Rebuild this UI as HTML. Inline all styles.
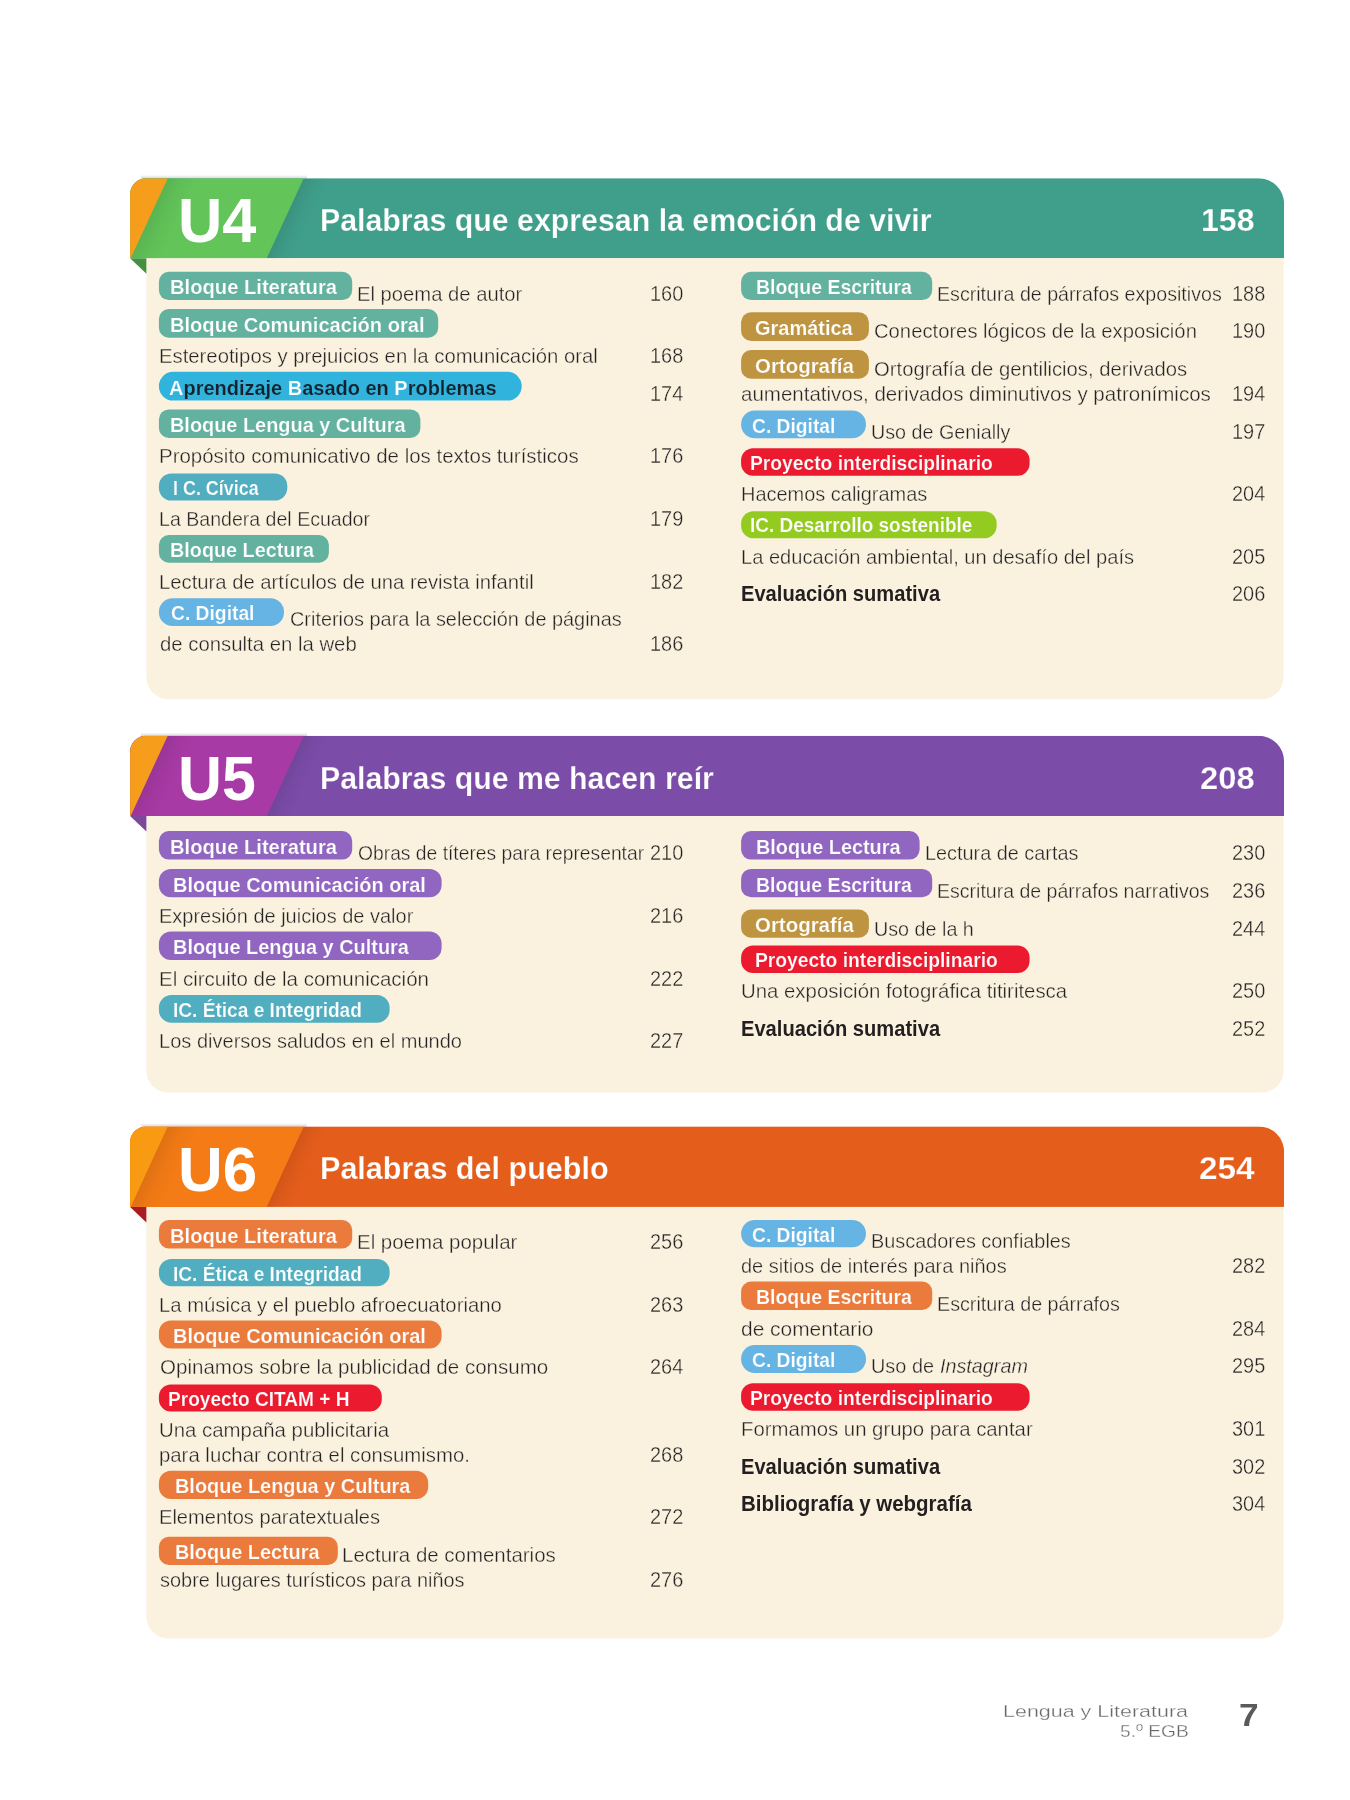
<!DOCTYPE html>
<html lang="es">
<head>
<meta charset="utf-8">
<title>Índice – Lengua y Literatura 5.º EGB</title>
<style>
html,body{margin:0;padding:0;background:#fff}
body{width:1350px;height:1800px;position:relative;overflow:hidden;font-family:"Liberation Sans",sans-serif}
#pg{position:absolute;left:0;top:0;width:1350px;height:1800px;overflow:hidden;will-change:transform}
#bg{position:absolute;left:0;top:0}
.t{position:absolute;white-space:nowrap;transform-origin:0 0}
.n{-webkit-text-stroke:.37px #faf2df}
.f{-webkit-text-stroke:.3px #fff}
.w{color:#fff;font-weight:700}
</style>
</head>
<body>
<div id="pg">
<svg id="bg" width="1350" height="1800" viewBox="0 0 1350 1800">
<defs><linearGradient id="sh" x1="0" y1="0" x2="1" y2="0"><stop offset="0" stop-color="#000" stop-opacity=".085"/><stop offset=".5" stop-color="#000" stop-opacity=".03"/><stop offset="1" stop-color="#000" stop-opacity="0"/></linearGradient><linearGradient id="sv" x1="0" y1="0" x2="0" y2="1"><stop offset="0" stop-color="#000" stop-opacity=".10"/><stop offset="1" stop-color="#000" stop-opacity="0"/></linearGradient><linearGradient id="st" x1="0" y1="0" x2="0" y2="1"><stop offset="0" stop-color="#000" stop-opacity="0"/><stop offset="1" stop-color="#000" stop-opacity=".16"/></linearGradient></defs>
<path d="M146.4 257.2 H1283.5 V677.3 a22 22 0 0 1 -22 22 H168.4 a22 22 0 0 1 -22 -22 Z" fill="#faf2df"/>
<polygon points="130.1,258.2 146.4,258.2 146.4,273.8" fill="#45923e"/>
<rect x="141" y="175.0" width="166" height="3.4" fill="url(#st)"/>
<clipPath id="h0"><path d="M130.1 258.2 V194.2 a16 16 0 0 1 16 -16 H1258.6 a25.5 25.5 0 0 1 25.5 25.5 V258.2 Z"/></clipPath>
<g clip-path="url(#h0)">
<rect x="130.1" y="178.2" width="1154.0" height="80.0" fill="#3f9f8a"/>
<rect transform="translate(303.7,178.2) skewX(-24.82)" x="0" y="0" width="26" height="80.0" fill="url(#sh)"/>
<polygon points="127.7,178.2 303.7,178.2 266.7,258.2 90.7,258.2" fill="#62c459"/>
<rect transform="translate(167.7,178.2) skewX(-24.82)" x="0" y="0" width="30" height="80.0" fill="url(#sh)"/>
<polygon points="125.1,178.2 167.7,178.2 128.8,262.2 125.1,262.2" fill="#f79d1c"/>
</g>
<path d="M146.4 815.0 H1283.5 V1070.6 a22 22 0 0 1 -22 22 H168.4 a22 22 0 0 1 -22 -22 Z" fill="#faf2df"/>
<polygon points="130.1,816.0 146.4,816.0 146.4,831.6" fill="#7f479a"/>
<rect x="141" y="732.6" width="166" height="3.4" fill="url(#st)"/>
<clipPath id="h1"><path d="M130.1 816.0 V751.8 a16 16 0 0 1 16 -16 H1258.6 a25.5 25.5 0 0 1 25.5 25.5 V816.0 Z"/></clipPath>
<g clip-path="url(#h1)">
<rect x="130.1" y="735.8" width="1154.0" height="80.2" fill="#7c4ca9"/>
<rect transform="translate(303.7,735.8) skewX(-24.77)" x="0" y="0" width="26" height="80.2" fill="url(#sh)"/>
<polygon points="127.7,735.8 303.7,735.8 266.7,816.0 90.7,816.0" fill="#a83aa5"/>
<rect transform="translate(167.7,735.8) skewX(-24.77)" x="0" y="0" width="30" height="80.2" fill="url(#sh)"/>
<polygon points="125.1,735.8 167.7,735.8 128.8,820.0 125.1,820.0" fill="#f79d1c"/>
</g>
<path d="M146.4 1205.9 H1283.5 V1616.5 a22 22 0 0 1 -22 22 H168.4 a22 22 0 0 1 -22 -22 Z" fill="#faf2df"/>
<polygon points="130.1,1206.9 146.4,1206.9 146.4,1222.5" fill="#a81d24"/>
<rect x="141" y="1123.2" width="166" height="3.4" fill="url(#st)"/>
<clipPath id="h2"><path d="M130.1 1206.9 V1142.4 a16 16 0 0 1 16 -16 H1258.6 a25.5 25.5 0 0 1 25.5 25.5 V1206.9 Z"/></clipPath>
<g clip-path="url(#h2)">
<rect x="130.1" y="1126.4" width="1154.0" height="80.5" fill="#e55d1b"/>
<rect transform="translate(303.7,1126.4) skewX(-24.68)" x="0" y="0" width="26" height="80.5" fill="url(#sh)"/>
<polygon points="127.7,1126.4 303.7,1126.4 266.7,1206.9 90.7,1206.9" fill="#f47b15"/>
<rect transform="translate(167.7,1126.4) skewX(-24.68)" x="0" y="0" width="30" height="80.5" fill="url(#sh)"/>
<polygon points="125.1,1126.4 167.7,1126.4 128.8,1210.9 125.1,1210.9" fill="#f89b13"/>
</g>
<rect x="158.9" y="271.7" width="193.3" height="28.4" rx="10.0" fill="#63b19f"/>
<rect x="158.9" y="309.0" width="279.3" height="28.7" rx="10.0" fill="#63b19f"/>
<rect x="158.9" y="371.7" width="362.8" height="28.9" rx="14.4" fill="#30b3dd"/>
<rect x="158.9" y="409.4" width="261.5" height="28.5" rx="10.0" fill="#63b19f"/>
<rect x="158.9" y="473.4" width="128.4" height="27.2" rx="12.5" fill="#51aec0"/>
<rect x="158.9" y="535.0" width="170.0" height="27.8" rx="10.0" fill="#63b19f"/>
<rect x="158.9" y="598.3" width="125.1" height="27.8" rx="13.6" fill="#65b4e4"/>
<rect x="741.1" y="271.7" width="191.1" height="28.4" rx="10.0" fill="#63b19f"/>
<rect x="741.1" y="312.3" width="127.8" height="28.7" rx="10.0" fill="#bf9441"/>
<rect x="741.1" y="350.1" width="127.8" height="28.7" rx="10.0" fill="#bf9441"/>
<rect x="741.1" y="410.6" width="124.9" height="27.7" rx="13.6" fill="#65b4e4"/>
<rect x="741.1" y="448.3" width="288.5" height="27.4" rx="12.0" fill="#ec1a2e"/>
<rect x="741.1" y="511.2" width="255.6" height="27.1" rx="12.5" fill="#94cb21"/>
<rect x="158.9" y="831.1" width="193.3" height="28.5" rx="10.0" fill="#9166c1"/>
<rect x="158.9" y="868.9" width="282.7" height="28.4" rx="12.0" fill="#9166c1"/>
<rect x="158.9" y="931.6" width="282.7" height="28.4" rx="12.0" fill="#9166c1"/>
<rect x="158.9" y="995.1" width="230.7" height="27.6" rx="12.5" fill="#51aec0"/>
<rect x="741.1" y="831.1" width="178.5" height="28.5" rx="10.0" fill="#9166c1"/>
<rect x="741.1" y="868.9" width="191.1" height="28.4" rx="10.0" fill="#9166c1"/>
<rect x="741.1" y="909.6" width="127.8" height="28.2" rx="10.0" fill="#bf9441"/>
<rect x="741.1" y="945.6" width="288.5" height="27.3" rx="12.0" fill="#ec1a2e"/>
<rect x="158.9" y="1220.0" width="193.3" height="28.4" rx="10.0" fill="#ea7b3c"/>
<rect x="158.9" y="1258.9" width="230.7" height="27.3" rx="12.5" fill="#51aec0"/>
<rect x="158.9" y="1320.4" width="282.7" height="28.0" rx="12.0" fill="#ea7b3c"/>
<rect x="158.9" y="1384.4" width="222.9" height="27.2" rx="12.0" fill="#ec1a2e"/>
<rect x="158.9" y="1470.7" width="269.3" height="28.2" rx="12.0" fill="#ea7b3c"/>
<rect x="158.9" y="1536.7" width="178.9" height="28.2" rx="10.0" fill="#ea7b3c"/>
<rect x="741.1" y="1220.0" width="124.9" height="27.3" rx="13.6" fill="#65b4e4"/>
<rect x="741.1" y="1281.6" width="191.1" height="28.4" rx="10.0" fill="#ea7b3c"/>
<rect x="741.1" y="1345.1" width="124.9" height="27.8" rx="13.6" fill="#65b4e4"/>
<rect x="741.1" y="1383.3" width="288.5" height="27.4" rx="12.0" fill="#ec1a2e"/>
</svg>
<span class="t" style="left:177.91px;top:173px;font-size:62.60px;line-height:94px;transform:scaleX(0.9798);color:#fff;font-weight:700">U4</span>
<span class="t" style="left:319.85px;top:197px;font-size:31.50px;line-height:47px;transform:scaleX(0.9622);color:#fff;font-weight:700;-webkit-text-stroke:.25px #3f9f8a">Palabras que expresan la emoción de vivir</span>
<span class="t" style="left:1200.58px;top:197px;font-size:31.30px;line-height:47px;transform:scaleX(1.0251);color:#fff;font-weight:700;-webkit-text-stroke:.25px #3f9f8a">158</span>
<span class="t" style="left:177.94px;top:731px;font-size:62.60px;line-height:94px;transform:scaleX(0.9729);color:#fff;font-weight:700">U5</span>
<span class="t" style="left:319.85px;top:755px;font-size:31.50px;line-height:47px;transform:scaleX(0.9613);color:#fff;font-weight:700;-webkit-text-stroke:.25px #7c4ca9">Palabras que me hacen reír</span>
<span class="t" style="left:1199.65px;top:755px;font-size:31.30px;line-height:47px;transform:scaleX(1.0472);color:#fff;font-weight:700;-webkit-text-stroke:.25px #7c4ca9">208</span>
<span class="t" style="left:177.88px;top:1122px;font-size:62.60px;line-height:94px;transform:scaleX(0.9893);color:#fff;font-weight:700">U6</span>
<span class="t" style="left:319.83px;top:1145px;font-size:31.50px;line-height:47px;transform:scaleX(0.9698);color:#fff;font-weight:700;-webkit-text-stroke:.25px #e55d1b">Palabras del pueblo</span>
<span class="t" style="left:1198.73px;top:1145px;font-size:31.30px;line-height:47px;transform:scaleX(1.0651);color:#fff;font-weight:700;-webkit-text-stroke:.25px #e55d1b">254</span>
<span class="t" style="left:170.14px;top:271px;font-size:20.60px;line-height:31px;transform:scaleX(0.9796);color:#fff;font-weight:700;-webkit-text-stroke:.2px #63b19f">Bloque Literatura</span>
<span class="t n" style="left:356.78px;top:278px;font-size:20.90px;line-height:31px;transform:scaleX(0.9681);color:#262223">El poema de autor</span>
<span class="t n" style="left:650.02px;top:277px;font-size:21.80px;line-height:33px;transform:scaleX(0.9150);color:#262223">160</span>
<span class="t" style="left:170.15px;top:309px;font-size:20.60px;line-height:31px;transform:scaleX(0.9755);color:#fff;font-weight:700;-webkit-text-stroke:.2px #63b19f">Bloque Comunicación oral</span>
<span class="t n" style="left:158.98px;top:340px;font-size:20.90px;line-height:31px;transform:scaleX(0.9715);color:#262223">Estereotipos y prejuicios en la comunicación oral</span>
<span class="t n" style="left:650.02px;top:339px;font-size:21.80px;line-height:33px;transform:scaleX(0.9150);color:#262223">168</span>
<span class="t" style="left:169.32px;top:372px;font-size:20.60px;line-height:31px;transform:scaleX(0.9700);color:#16212b;font-weight:700;-webkit-text-stroke:.2px #30b3dd"><b class="w">A</b>prendizaje <b class="w">B</b>asado en <b class="w">P</b>roblemas</span>
<span class="t n" style="left:650.02px;top:377px;font-size:21.80px;line-height:33px;transform:scaleX(0.9150);color:#262223">174</span>
<span class="t" style="left:170.16px;top:409px;font-size:20.60px;line-height:31px;transform:scaleX(0.9663);color:#fff;font-weight:700;-webkit-text-stroke:.2px #63b19f">Bloque Lengua y Cultura</span>
<span class="t n" style="left:158.96px;top:440px;font-size:20.90px;line-height:31px;transform:scaleX(0.9795);color:#262223">Propósito comunicativo de los textos turísticos</span>
<span class="t n" style="left:650.02px;top:439px;font-size:21.80px;line-height:33px;transform:scaleX(0.9150);color:#262223">176</span>
<span class="t" style="left:172.59px;top:472px;font-size:20.60px;line-height:31px;transform:scaleX(0.8698);color:#fff;font-weight:700;-webkit-text-stroke:.2px #51aec0">I C. Cívica</span>
<span class="t n" style="left:159.04px;top:503px;font-size:20.90px;line-height:31px;transform:scaleX(0.9365);color:#262223">La Bandera del Ecuador</span>
<span class="t n" style="left:650.02px;top:502px;font-size:21.80px;line-height:33px;transform:scaleX(0.9150);color:#262223">179</span>
<span class="t" style="left:170.17px;top:534px;font-size:20.60px;line-height:31px;transform:scaleX(0.9612);color:#fff;font-weight:700;-webkit-text-stroke:.2px #63b19f">Bloque Lectura</span>
<span class="t n" style="left:158.98px;top:566px;font-size:20.90px;line-height:31px;transform:scaleX(0.9690);color:#262223">Lectura de artículos de una revista infantil</span>
<span class="t n" style="left:650.02px;top:565px;font-size:21.80px;line-height:33px;transform:scaleX(0.9150);color:#262223">182</span>
<span class="t" style="left:170.65px;top:597px;font-size:20.60px;line-height:31px;transform:scaleX(0.9351);color:#fff;font-weight:700;-webkit-text-stroke:.2px #65b4e4">C. Digital</span>
<span class="t n" style="left:289.57px;top:603px;font-size:20.90px;line-height:31px;transform:scaleX(0.9520);color:#262223">Criterios para la selección de páginas</span>
<span class="t n" style="left:159.77px;top:628px;font-size:20.90px;line-height:31px;transform:scaleX(0.9733);color:#262223">de consulta en la web</span>
<span class="t n" style="left:650.02px;top:627px;font-size:21.80px;line-height:33px;transform:scaleX(0.9150);color:#262223">186</span>
<span class="t" style="left:756.49px;top:271px;font-size:20.60px;line-height:31px;transform:scaleX(0.9457);color:#fff;font-weight:700;-webkit-text-stroke:.2px #63b19f">Bloque Escritura</span>
<span class="t n" style="left:936.83px;top:278px;font-size:20.90px;line-height:31px;transform:scaleX(0.9395);color:#262223">Escritura de párrafos expositivos</span>
<span class="t n" style="left:1232.02px;top:277px;font-size:21.80px;line-height:33px;transform:scaleX(0.9150);color:#262223">188</span>
<span class="t" style="left:755.32px;top:312px;font-size:20.60px;line-height:31px;transform:scaleX(0.9695);color:#fff;font-weight:700;-webkit-text-stroke:.2px #bf9441">Gramática</span>
<span class="t n" style="left:873.95px;top:315px;font-size:20.90px;line-height:31px;transform:scaleX(0.9688);color:#262223">Conectores lógicos de la exposición</span>
<span class="t n" style="left:1232.02px;top:314px;font-size:21.80px;line-height:33px;transform:scaleX(0.9150);color:#262223">190</span>
<span class="t" style="left:754.60px;top:350px;font-size:20.60px;line-height:31px;transform:scaleX(0.9927);color:#fff;font-weight:700;-webkit-text-stroke:.2px #bf9441">Ortografía</span>
<span class="t n" style="left:874.05px;top:353px;font-size:20.90px;line-height:31px;transform:scaleX(0.9698);color:#262223">Ortografía de gentilicios, derivados</span>
<span class="t n" style="left:741.32px;top:378px;font-size:20.90px;line-height:31px;transform:scaleX(0.9821);color:#262223">aumentativos, derivados diminutivos y patronímicos</span>
<span class="t n" style="left:1232.02px;top:377px;font-size:21.80px;line-height:33px;transform:scaleX(0.9150);color:#262223">194</span>
<span class="t" style="left:752.45px;top:410px;font-size:20.60px;line-height:31px;transform:scaleX(0.9340);color:#fff;font-weight:700;-webkit-text-stroke:.2px #65b4e4">C. Digital</span>
<span class="t n" style="left:871.32px;top:416px;font-size:20.90px;line-height:31px;transform:scaleX(0.9448);color:#262223">Uso de Genially</span>
<span class="t n" style="left:1232.02px;top:415px;font-size:21.80px;line-height:33px;transform:scaleX(0.9150);color:#262223">197</span>
<span class="t" style="left:750.20px;top:447px;font-size:20.60px;line-height:31px;transform:scaleX(0.9344);color:#fff;font-weight:700;-webkit-text-stroke:.2px #ec1a2e">Proyecto interdisciplinario</span>
<span class="t n" style="left:740.61px;top:478px;font-size:20.90px;line-height:31px;transform:scaleX(0.9550);color:#262223">Hacemos caligramas</span>
<span class="t n" style="left:1232.02px;top:477px;font-size:21.80px;line-height:33px;transform:scaleX(0.9150);color:#262223">204</span>
<span class="t" style="left:750.22px;top:509px;font-size:20.60px;line-height:31px;transform:scaleX(0.9207);color:#fff;font-weight:700;-webkit-text-stroke:.2px #94cb21">IC. Desarrollo sostenible</span>
<span class="t n" style="left:740.59px;top:541px;font-size:20.90px;line-height:31px;transform:scaleX(0.9614);color:#262223">La educación ambiental, un desafío del país</span>
<span class="t n" style="left:1232.02px;top:540px;font-size:21.80px;line-height:33px;transform:scaleX(0.9150);color:#262223">205</span>
<span class="t" style="left:740.89px;top:578px;font-size:21.20px;line-height:32px;transform:scaleX(0.9497);color:#231f20;font-weight:700">Evaluación sumativa</span>
<span class="t n" style="left:1232.02px;top:577px;font-size:21.80px;line-height:33px;transform:scaleX(0.9150);color:#262223">206</span>
<span class="t" style="left:170.14px;top:831px;font-size:20.60px;line-height:31px;transform:scaleX(0.9796);color:#fff;font-weight:700;-webkit-text-stroke:.2px #9166c1">Bloque Literatura</span>
<span class="t n" style="left:357.50px;top:837px;font-size:20.90px;line-height:31px;transform:scaleX(0.9228);color:#262223">Obras de títeres para representar</span>
<span class="t n" style="left:650.02px;top:836px;font-size:21.80px;line-height:33px;transform:scaleX(0.9150);color:#262223">210</span>
<span class="t" style="left:173.05px;top:869px;font-size:20.60px;line-height:31px;transform:scaleX(0.9693);color:#fff;font-weight:700;-webkit-text-stroke:.2px #9166c1">Bloque Comunicación oral</span>
<span class="t n" style="left:159.00px;top:900px;font-size:20.90px;line-height:31px;transform:scaleX(0.9563);color:#262223">Expresión de juicios de valor</span>
<span class="t n" style="left:650.02px;top:899px;font-size:21.80px;line-height:33px;transform:scaleX(0.9150);color:#262223">216</span>
<span class="t" style="left:173.06px;top:931px;font-size:20.60px;line-height:31px;transform:scaleX(0.9680);color:#fff;font-weight:700;-webkit-text-stroke:.2px #9166c1">Bloque Lengua y Cultura</span>
<span class="t n" style="left:158.96px;top:963px;font-size:20.90px;line-height:31px;transform:scaleX(0.9810);color:#262223">El circuito de la comunicación</span>
<span class="t n" style="left:650.02px;top:962px;font-size:21.80px;line-height:33px;transform:scaleX(0.9150);color:#262223">222</span>
<span class="t" style="left:172.51px;top:994px;font-size:20.60px;line-height:31px;transform:scaleX(0.9273);color:#fff;font-weight:700;-webkit-text-stroke:.2px #51aec0">IC. Ética e Integridad</span>
<span class="t n" style="left:159.00px;top:1025px;font-size:20.90px;line-height:31px;transform:scaleX(0.9592);color:#262223">Los diversos saludos en el mundo</span>
<span class="t n" style="left:650.02px;top:1024px;font-size:21.80px;line-height:33px;transform:scaleX(0.9150);color:#262223">227</span>
<span class="t" style="left:756.46px;top:831px;font-size:20.60px;line-height:31px;transform:scaleX(0.9639);color:#fff;font-weight:700;-webkit-text-stroke:.2px #9166c1">Bloque Lectura</span>
<span class="t n" style="left:924.61px;top:837px;font-size:20.90px;line-height:31px;transform:scaleX(0.9506);color:#262223">Lectura de cartas</span>
<span class="t n" style="left:1232.02px;top:836px;font-size:21.80px;line-height:33px;transform:scaleX(0.9150);color:#262223">230</span>
<span class="t" style="left:756.49px;top:869px;font-size:20.60px;line-height:31px;transform:scaleX(0.9457);color:#fff;font-weight:700;-webkit-text-stroke:.2px #9166c1">Bloque Escritura</span>
<span class="t n" style="left:936.84px;top:875px;font-size:20.90px;line-height:31px;transform:scaleX(0.9344);color:#262223">Escritura de párrafos narrativos</span>
<span class="t n" style="left:1232.02px;top:874px;font-size:21.80px;line-height:33px;transform:scaleX(0.9150);color:#262223">236</span>
<span class="t" style="left:754.60px;top:909px;font-size:20.60px;line-height:31px;transform:scaleX(0.9927);color:#fff;font-weight:700;-webkit-text-stroke:.2px #bf9441">Ortografía</span>
<span class="t n" style="left:874.22px;top:913px;font-size:20.90px;line-height:31px;transform:scaleX(0.9445);color:#262223">Uso de la h</span>
<span class="t n" style="left:1232.02px;top:912px;font-size:21.80px;line-height:33px;transform:scaleX(0.9150);color:#262223">244</span>
<span class="t" style="left:754.70px;top:944px;font-size:20.60px;line-height:31px;transform:scaleX(0.9344);color:#fff;font-weight:700;-webkit-text-stroke:.2px #ec1a2e">Proyecto interdisciplinario</span>
<span class="t n" style="left:740.67px;top:975px;font-size:20.90px;line-height:31px;transform:scaleX(0.9752);color:#262223">Una exposición fotográfica titiritesca</span>
<span class="t n" style="left:1232.02px;top:974px;font-size:21.80px;line-height:33px;transform:scaleX(0.9150);color:#262223">250</span>
<span class="t" style="left:740.89px;top:1013px;font-size:21.20px;line-height:32px;transform:scaleX(0.9497);color:#231f20;font-weight:700">Evaluación sumativa</span>
<span class="t n" style="left:1232.02px;top:1012px;font-size:21.80px;line-height:33px;transform:scaleX(0.9150);color:#262223">252</span>
<span class="t" style="left:170.14px;top:1220px;font-size:20.60px;line-height:31px;transform:scaleX(0.9796);color:#fff;font-weight:700;-webkit-text-stroke:.2px #ea7b3c">Bloque Literatura</span>
<span class="t n" style="left:356.76px;top:1226px;font-size:20.90px;line-height:31px;transform:scaleX(0.9791);color:#262223">El poema popular</span>
<span class="t n" style="left:650.02px;top:1225px;font-size:21.80px;line-height:33px;transform:scaleX(0.9150);color:#262223">256</span>
<span class="t" style="left:172.51px;top:1258px;font-size:20.60px;line-height:31px;transform:scaleX(0.9273);color:#fff;font-weight:700;-webkit-text-stroke:.2px #51aec0">IC. Ética e Integridad</span>
<span class="t n" style="left:158.98px;top:1289px;font-size:20.90px;line-height:31px;transform:scaleX(0.9708);color:#262223">La música y el pueblo afroecuatoriano</span>
<span class="t n" style="left:650.02px;top:1288px;font-size:21.80px;line-height:33px;transform:scaleX(0.9150);color:#262223">263</span>
<span class="t" style="left:173.05px;top:1320px;font-size:20.60px;line-height:31px;transform:scaleX(0.9693);color:#fff;font-weight:700;-webkit-text-stroke:.2px #ea7b3c">Bloque Comunicación oral</span>
<span class="t n" style="left:159.64px;top:1351px;font-size:20.90px;line-height:31px;transform:scaleX(0.9833);color:#262223">Opinamos sobre la publicidad de consumo</span>
<span class="t n" style="left:650.02px;top:1350px;font-size:21.80px;line-height:33px;transform:scaleX(0.9150);color:#262223">264</span>
<span class="t" style="left:168.01px;top:1383px;font-size:20.60px;line-height:31px;transform:scaleX(0.9265);color:#fff;font-weight:700;-webkit-text-stroke:.2px #ec1a2e">Proyecto CITAM + H</span>
<span class="t n" style="left:159.07px;top:1414px;font-size:20.90px;line-height:31px;transform:scaleX(0.9758);color:#262223">Una campaña publicitaria</span>
<span class="t n" style="left:159.29px;top:1439px;font-size:20.90px;line-height:31px;transform:scaleX(0.9736);color:#262223">para luchar contra el consumismo.</span>
<span class="t n" style="left:650.02px;top:1438px;font-size:21.80px;line-height:33px;transform:scaleX(0.9150);color:#262223">268</span>
<span class="t" style="left:174.66px;top:1470px;font-size:20.60px;line-height:31px;transform:scaleX(0.9659);color:#fff;font-weight:700;-webkit-text-stroke:.2px #ea7b3c">Bloque Lengua y Cultura</span>
<span class="t n" style="left:158.99px;top:1501px;font-size:20.90px;line-height:31px;transform:scaleX(0.9615);color:#262223">Elementos paratextuales</span>
<span class="t n" style="left:650.02px;top:1500px;font-size:21.80px;line-height:33px;transform:scaleX(0.9150);color:#262223">272</span>
<span class="t" style="left:174.66px;top:1536px;font-size:20.60px;line-height:31px;transform:scaleX(0.9639);color:#fff;font-weight:700;-webkit-text-stroke:.2px #ea7b3c">Bloque Lectura</span>
<span class="t n" style="left:342.26px;top:1539px;font-size:20.90px;line-height:31px;transform:scaleX(0.9791);color:#262223">Lectura de comentarios</span>
<span class="t n" style="left:159.89px;top:1564px;font-size:20.90px;line-height:31px;transform:scaleX(0.9538);color:#262223">sobre lugares turísticos para niños</span>
<span class="t n" style="left:650.02px;top:1563px;font-size:21.80px;line-height:33px;transform:scaleX(0.9150);color:#262223">276</span>
<span class="t" style="left:752.45px;top:1219px;font-size:20.60px;line-height:31px;transform:scaleX(0.9340);color:#fff;font-weight:700;-webkit-text-stroke:.2px #65b4e4">C. Digital</span>
<span class="t n" style="left:871.21px;top:1225px;font-size:20.90px;line-height:31px;transform:scaleX(0.9504);color:#262223">Buscadores confiables</span>
<span class="t n" style="left:741.38px;top:1250px;font-size:20.90px;line-height:31px;transform:scaleX(0.9573);color:#262223">de sitios de interés para niños</span>
<span class="t n" style="left:1232.02px;top:1249px;font-size:21.80px;line-height:33px;transform:scaleX(0.9150);color:#262223">282</span>
<span class="t" style="left:756.49px;top:1281px;font-size:20.60px;line-height:31px;transform:scaleX(0.9457);color:#fff;font-weight:700;-webkit-text-stroke:.2px #ea7b3c">Bloque Escritura</span>
<span class="t n" style="left:936.83px;top:1288px;font-size:20.90px;line-height:31px;transform:scaleX(0.9433);color:#262223">Escritura de párrafos</span>
<span class="t n" style="left:741.34px;top:1313px;font-size:20.90px;line-height:31px;transform:scaleX(1.0009);color:#262223">de comentario</span>
<span class="t n" style="left:1232.02px;top:1312px;font-size:21.80px;line-height:33px;transform:scaleX(0.9150);color:#262223">284</span>
<span class="t" style="left:752.45px;top:1344px;font-size:20.60px;line-height:31px;transform:scaleX(0.9340);color:#fff;font-weight:700;-webkit-text-stroke:.2px #65b4e4">C. Digital</span>
<span class="t n" style="left:871.31px;top:1350px;font-size:20.90px;line-height:31px;transform:scaleX(0.9519);color:#262223">Uso de</span>
<span class="t n" style="left:939.79px;top:1350px;font-size:20.90px;line-height:31px;transform:scaleX(0.9461);color:#262223;font-style:italic">Instagram</span>
<span class="t n" style="left:1232.02px;top:1349px;font-size:21.80px;line-height:33px;transform:scaleX(0.9150);color:#262223">295</span>
<span class="t" style="left:750.20px;top:1382px;font-size:20.60px;line-height:31px;transform:scaleX(0.9344);color:#fff;font-weight:700;-webkit-text-stroke:.2px #ec1a2e">Proyecto interdisciplinario</span>
<span class="t n" style="left:740.57px;top:1413px;font-size:20.90px;line-height:31px;transform:scaleX(0.9736);color:#262223">Formamos un grupo para cantar</span>
<span class="t n" style="left:1232.02px;top:1412px;font-size:21.80px;line-height:33px;transform:scaleX(0.9150);color:#262223">301</span>
<span class="t" style="left:740.89px;top:1451px;font-size:21.20px;line-height:32px;transform:scaleX(0.9497);color:#231f20;font-weight:700">Evaluación sumativa</span>
<span class="t n" style="left:1232.02px;top:1450px;font-size:21.80px;line-height:33px;transform:scaleX(0.9150);color:#262223">302</span>
<span class="t" style="left:740.86px;top:1488px;font-size:21.20px;line-height:32px;transform:scaleX(0.9656);color:#231f20;font-weight:700">Bibliografía y webgrafía</span>
<span class="t n" style="left:1232.02px;top:1487px;font-size:21.80px;line-height:33px;transform:scaleX(0.9150);color:#262223">304</span>
<span class="t f" style="left:1002.63px;top:1698px;font-size:17.20px;line-height:26px;transform:scaleX(1.2494);color:#68696b">Lengua y Literatura</span>
<span class="t f" style="left:1119.60px;top:1718px;font-size:17.20px;line-height:26px;transform:scaleX(1.1147);color:#68696b">5.º EGB</span>
<span class="t" style="left:1239.06px;top:1692px;font-size:31.10px;line-height:47px;transform:scaleX(1.1344);color:#5a5a5c;font-weight:700">7</span>
</div>
</body>
</html>
